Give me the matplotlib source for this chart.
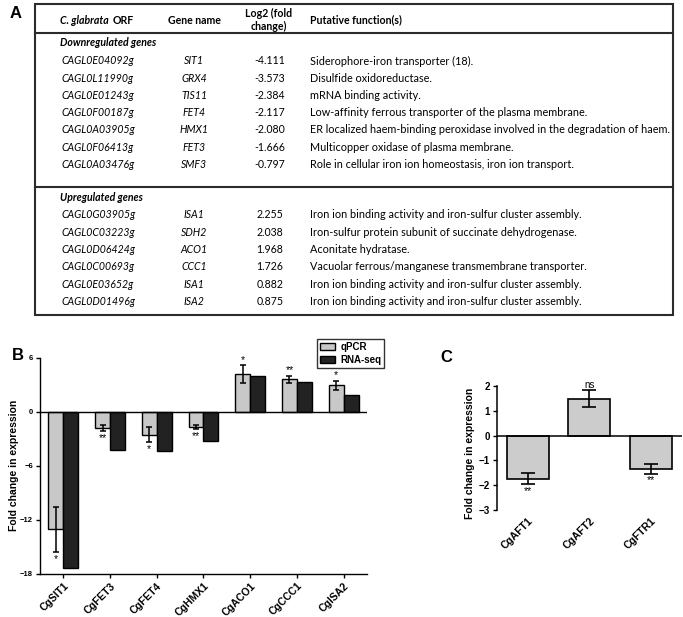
import matplotlib.pyplot as plt
import numpy as np
from matplotlib.patches import Rectangle
from matplotlib.lines import Line2D

# ---- table data (panel A)
down_orf = ["CAGL0E04092g", "CAGL0L11990g", "CAGL0E01243g", "CAGL0F00187g",
            "CAGL0A03905g", "CAGL0F06413g", "CAGL0A03476g"]
down_gene = ["SIT1", "GRX4", "TIS11", "FET4", "HMX1", "FET3", "SMF3"]
down_log2 = ["-4.111", "-3.573", "-2.384", "-2.117", "-2.080", "-1.666", "-0.797"]
down_func = ["Siderophore-iron transporter (18).",
             "Disulfide oxidoreductase.",
             "mRNA binding activity.",
             "Low-affinity ferrous transporter of the plasma membrane.",
             "ER localized haem-binding peroxidase involved in the degradation of haem.",
             "Multicopper oxidase of plasma membrane.",
             "Role in cellular iron ion homeostasis, iron ion transport."]

up_orf = ["CAGL0G03905g", "CAGL0C03223g", "CAGL0D06424g", "CAGL0C00693g",
          "CAGL0E03652g", "CAGL0D01496g"]
up_gene = ["ISA1", "SDH2", "ACO1", "CCC1", "ISA1", "ISA2"]
up_log2 = ["2.255", "2.038", "1.968", "1.726", "0.882", "0.875"]
up_func = ["Iron ion binding activity and iron-sulfur cluster assembly.",
           "Iron-sulfur protein subunit of succinate dehydrogenase.",
           "Aconitate hydratase.",
           "Vacuolar ferrous/manganese transmembrane transporter.",
           "Iron ion binding activity and iron-sulfur cluster assembly.",
           "Iron ion binding activity and iron-sulfur cluster assembly."]

# ---- panel B data
genes_b = ["CgSIT1", "CgFET3", "CgFET4", "CgHMX1", "CgACO1", "CgCCC1", "CgISA2"]
qpcr_b = [-13.05, -1.8, -2.5, -1.7, 4.2, 3.65, 3.0]
qpcr_err_b = [2.5, 0.33, 0.85, 0.22, 0.97, 0.4, 0.5]
rnaseq_b = [-17.3, -4.2, -4.35, -3.2, 3.95, 3.35, 1.87]
signif_b = ["*", "**", "*", "**", "*", "**", "*"]

# ---- panel C data
genes_c = ["CgAFT1", "CgAFT2", "CgFTR1"]
qpcr_c = [-1.73, 1.49, -1.33]
qpcr_err_c = [0.24, 0.34, 0.2]
signif_c = ["**", "ns", "**"]

W, H = 683, 617
fig = plt.figure(figsize=(6.83, 6.17), dpi=100)


def fx(p):
    return p / W


def fy(p):
    return 1 - p / H


tfont = "Lato"
ts = 7.6

# ---- panel A: table
fig.text(fx(10), fy(14), "A", fontsize=12, fontweight="bold", family="Liberation Sans", va="center")
fig.add_artist(Rectangle((fx(35), fy(315)), fx(673) - fx(35), fy(4) - fy(315),
                         transform=fig.transFigure, fill=False, ec="#2b2b2b", lw=1.5))
for yy in [33, 187]:
    fig.add_artist(Line2D([fx(35), fx(673)], [fy(yy), fy(yy)], color="#2b2b2b", lw=1.5))

fig.text(fx(60), fy(20), "C. glabrata", family=tfont, fontsize=ts, fontweight="bold", style="italic", va="center")
fig.text(fx(113), fy(20), "ORF", family=tfont, fontsize=ts, fontweight="bold", va="center")
fig.text(fx(194), fy(20), "Gene name", family=tfont, fontsize=ts, fontweight="bold", va="center", ha="center")
fig.text(fx(269), fy(20), "Log2 (fold\nchange)", family=tfont, fontsize=ts, fontweight="bold",
         va="center", ha="center", linespacing=1.15)
fig.text(fx(310), fy(20), "Putative function(s)", family=tfont, fontsize=ts, fontweight="bold", va="center")


def table_block(y0, title, orf, gene, log2, func):
    fig.text(fx(60), fy(y0), title, family=tfont, fontsize=ts, fontweight="bold", style="italic", va="center")
    for i in range(len(orf)):
        y = fy(y0 + 18 + 17.25 * i)
        fig.text(fx(61), y, orf[i], family=tfont, fontsize=ts, style="italic", va="center")
        fig.text(fx(194), y, gene[i], family=tfont, fontsize=ts, style="italic", va="center", ha="center")
        fig.text(fx(270), y, log2[i], family=tfont, fontsize=ts, va="center", ha="center")
        fig.text(fx(310), y, func[i], family=tfont, fontsize=7.8, va="center")


table_block(43, "Downregulated genes", down_orf, down_gene, down_log2, down_func)
table_block(197, "Upregulated genes", up_orf, up_gene, up_log2, up_func)

# ---- panel B
cfont = "Liberation Sans"
axB = fig.add_axes([fx(40), fy(574), fx(367) - fx(40), (574 - 358) / H])
x = np.arange(len(genes_b))
w = 0.32
axB.bar(x - w / 2, qpcr_b, w, color="#c8c8c8", edgecolor="black", lw=1, label="qPCR",
        yerr=qpcr_err_b, capsize=2.5, error_kw=dict(lw=1.1, capthick=1.1), zorder=2)
axB.bar(x + w / 2, rnaseq_b, w, color="#222222", edgecolor="black", lw=1, label="RNA-seq", zorder=2)
axB.axhline(0, color="black", lw=1, zorder=3)
for i in range(len(x)):
    v, e = qpcr_b[i], qpcr_err_b[i]
    if v < 0:
        axB.text(x[i] - w / 2, v - e - 0.2, signif_b[i], ha="center", va="top", fontsize=7.5, family=cfont)
    else:
        axB.text(x[i] - w / 2, v + e, signif_b[i], ha="center", va="bottom", fontsize=7.5, family=cfont)
axB.set_xlim(-0.5, 6.5)
axB.set_ylim(-18, 6)
axB.set_yticks([6, 0, -6, -12, -18])
axB.set_xticks(x)
axB.set_xticklabels(genes_b, rotation=45, ha="right", rotation_mode="anchor",
                    fontsize=7.5, fontweight="bold", family=cfont)
for lab in axB.get_yticklabels():
    lab.set_fontsize(5.5)
    lab.set_fontweight("bold")
    lab.set_family(cfont)
axB.tick_params(length=3, width=1, pad=2)
for s in ["top", "right"]:
    axB.spines[s].set_visible(False)
for s in ["left", "bottom"]:
    axB.spines[s].set_linewidth(1)
fig.text(fx(14), fy(465), "Fold change in expression", rotation=90, ha="center", va="center",
         fontsize=7.5, fontweight="bold", family=cfont)
fig.text(fx(12), fy(356), "B", fontsize=12, fontweight="bold", family=cfont, va="center")
leg = fig.legend(loc="upper left", bbox_to_anchor=(fx(317), fy(339)), frameon=True, fancybox=False,
                 edgecolor="black", prop=dict(family=cfont, weight="bold", size=7),
                 handlelength=1.5, handleheight=0.8, borderpad=0.3, labelspacing=0.3,
                 handletextpad=0.6, borderaxespad=0)
leg.get_frame().set_linewidth(1)

# ---- panel C
axC = fig.add_axes([fx(497), fy(510), (681.5 - 497) / W, (510 - 386) / H])
xc = np.arange(len(genes_c))
axC.bar(xc, qpcr_c, 0.68, color="#cccccc", edgecolor="black", lw=1.2,
        yerr=qpcr_err_c, capsize=5, error_kw=dict(lw=1.2, capthick=1.2), zorder=2)
axC.axhline(0, color="black", lw=1.1, zorder=3)
for i in range(len(xc)):
    v, e = qpcr_c[i], qpcr_err_c[i]
    if v < 0:
        axC.text(xc[i], v - e - 0.05, signif_c[i], ha="center", va="top", fontsize=7.5, family=cfont)
    else:
        axC.text(xc[i], v + e + 0.02, signif_c[i], ha="center", va="bottom", fontsize=7, family=cfont)
axC.set_xlim(-0.5, 2.5)
axC.set_ylim(-3, 2)
axC.set_yticks([2, 1, 0, -1, -2, -3])
axC.set_xticks(xc)
axC.set_xticklabels(genes_c, rotation=45, ha="right", rotation_mode="anchor",
                    fontsize=7.5, fontweight="bold", family=cfont)
for lab in axC.get_yticklabels():
    lab.set_fontsize(7)
    lab.set_fontweight("bold")
    lab.set_family(cfont)
axC.tick_params(axis="y", length=3, width=1, pad=2)
axC.tick_params(axis="x", length=0, pad=4)
for s in ["top", "right", "bottom"]:
    axC.spines[s].set_visible(False)
axC.spines["left"].set_linewidth(1.1)
fig.text(fx(470), fy(453), "Fold change in expression", rotation=90, ha="center", va="center",
         fontsize=7.5, fontweight="bold", family=cfont)
fig.text(fx(440), fy(358), "C", fontsize=12, fontweight="bold", family=cfont, va="center")

fig.savefig("out.png", dpi=100)
